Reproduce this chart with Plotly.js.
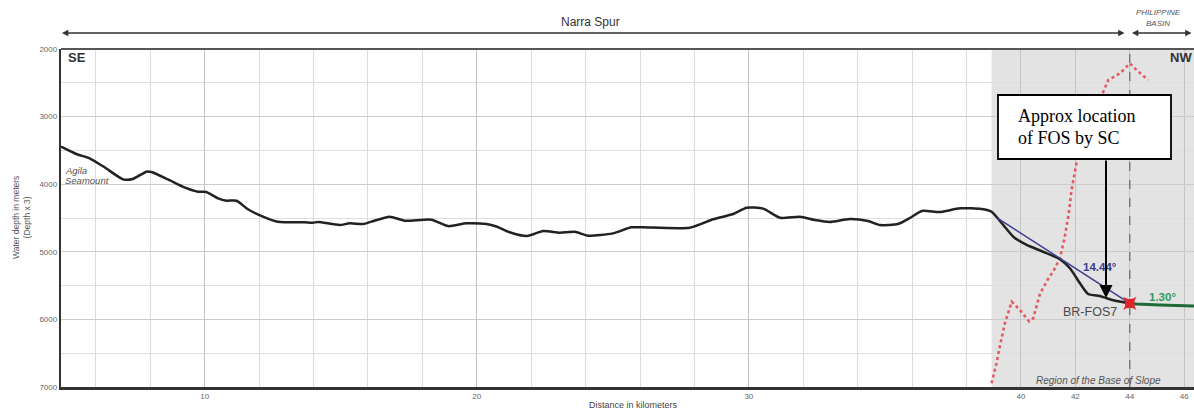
<!DOCTYPE html>
<html><head><meta charset="utf-8">
<script src="https://cdn.plot.ly/plotly-3.0.1.min.js"></script>
<style>html,body{margin:0;padding:0;background:#fff;}#chart{width:1194px;height:411px;}</style>
</head><body><div id="chart"></div>
<script>
// ---- data ----
const profileKm = [4.72, 5.28, 5.77, 6.32, 7.0, 7.36, 7.86, 8.04, 8.65, 9.26, 9.76, 10.06, 10.49, 10.8, 11.17, 11.59, 12.21, 12.69, 13.68, 13.98, 14.17, 14.96, 15.33, 15.82, 16.13, 16.8, 17.35, 18.33, 18.95, 19.62, 20.36, 20.72, 21.21, 21.85, 22.44, 23.05, 23.6, 24.09, 25.0, 25.68, 26.11, 27.83, 28.69, 29.42, 29.92, 30.53, 31.14, 31.88, 32.43, 32.98, 33.71, 34.38, 34.82, 35.48, 35.92, 36.36, 37.02, 37.76, 38.55, 38.92, 39.35, 39.72, 40.21, 40.82, 41.43, 41.80, 42.17, 42.47, 42.9, 43.15, 43.51, 44.0];
const profileDepth = [3445, 3553, 3617, 3750, 3928, 3923, 3815, 3820, 3928, 4046, 4111, 4115, 4209, 4244, 4244, 4371, 4490, 4555, 4564, 4569, 4559, 4604, 4579, 4589, 4554, 4480, 4539, 4525, 4620, 4579, 4590, 4625, 4710, 4766, 4692, 4717, 4704, 4761, 4727, 4638, 4638, 4643, 4519, 4441, 4347, 4362, 4496, 4480, 4530, 4559, 4515, 4545, 4604, 4590, 4500, 4396, 4411, 4357, 4367, 4407, 4604, 4777, 4899, 4999, 5109, 5244, 5466, 5624, 5654, 5688, 5728, 5762];
const basinKm = [44.0, 44.25, 45.1, 46.36];
const basinDepth = [5762, 5772, 5787, 5802];
const slopeKm = [39.15, 44.0];
const slopeDepth = [4505, 5762];
const fosKm = [44.0];
const fosDepth = [5762];
const redKm = [38.92, 39.10, 39.25, 39.41, 39.66, 39.96, 40.3, 40.45, 40.7, 41.0, 41.2, 41.43, 41.6, 41.75, 41.86, 41.98, 42.06, 42.3, 42.6, 42.94, 43.03, 43.21, 43.64, 44.0, 44.25, 44.67];
const redDepth = [6945, 6650, 6350, 6058, 5738, 5861, 6030, 5984, 5620, 5400, 5280, 5100, 4800, 4450, 4086, 3790, 3640, 3250, 2900, 2680, 2631, 2459, 2361, 2213, 2311, 2459];
const xTickVals = [10, 20, 30, 40, 42, 44, 46];
const xTickText = ['10', '20', '30', '40', '42', '44', '46'];
const yTickVals = [2000, 3000, 4000, 5000, 6000, 7000];
const yTickText = ['2000', '3000', '4000', '5000', '6000', '7000'];

// ---- layout helpers (reference pixel -> paper) ----
const W = 1194, H = 411, L = 61, T = 49, B = 24, R = 0;
const xp = px => (px - L) / (W - L - R);
const yp = py => (H - B - py) / (H - B - T);
const SANS = 'Liberation Sans, Arial, sans-serif';
const SERIF = 'Liberation Serif, Times New Roman, serif';

const traces = [
  {x: redKm, y: redDepth, mode: 'lines', line: {color: '#e25a5f', width: 2.6, dash: 'dot'}, hoverinfo: 'skip'},
  {x: profileKm, y: profileDepth, mode: 'lines', line: {color: '#222222', width: 2.5, shape: 'spline', smoothing: 0.6}, hoverinfo: 'skip'},
  {x: slopeKm, y: slopeDepth, mode: 'lines', line: {color: '#3d3d8f', width: 1.5}, hoverinfo: 'skip'},
  {x: basinKm, y: basinDepth, mode: 'lines', line: {color: '#1f6b38', width: 3}, hoverinfo: 'skip'},
  {x: fosKm, y: fosDepth, mode: 'markers', marker: {symbol: 'star-square', size: 12, color: '#e3242b'}, hoverinfo: 'skip'}
];

function txt(text, x, y, size, opts) {
  return Object.assign({xref: 'paper', yref: 'paper', x: xp(x), y: yp(y), text: text, showarrow: false,
    xanchor: 'left', yanchor: 'middle', font: {family: SANS, size: size, color: '#444'}}, opts || {});
}

const annotations = [
  txt('Narra Spur', 590, 22, 12, {xanchor: 'center', font: {family: SANS, size: 12, color: '#333'}}),
  txt('<i>PHILIPPINE</i>', 1158, 13, 8, {xanchor: 'center', font: {family: SANS, size: 8, color: '#555'}}),
  txt('<i>BASIN</i>', 1158, 24, 8, {xanchor: 'center', font: {family: SANS, size: 8, color: '#555'}}),
  txt('<b>SE</b>', 66, 57, 13, {font: {family: SANS, size: 13, color: '#333'}}),
  txt('<b>NW</b>', 1194, 57, 13, {xanchor: 'right', font: {family: SANS, size: 13, color: '#333'}}),
  txt('<i>Agila</i>', 63, 170, 9.5, {font: {family: SANS, size: 9.5, color: '#555'}}),
  txt('<i>Seamount</i>', 63, 180, 9.5, {font: {family: SANS, size: 9.5, color: '#555'}}),
  txt('<i>Region of the Base of Slope</i>', 1098, 380, 10, {xanchor: 'center', font: {family: SANS, size: 10, color: '#555'}}),
  txt('BR-FOS7', 1061, 312, 12.5, {font: {family: SANS, size: 12.5, color: '#4a4a4a'}}),
  txt('<b>14.44°</b>', 1081, 267, 11.5, {font: {family: SANS, size: 11.5, color: '#3c3c8e'}}),
  txt('<b>1.30°</b>', 1147, 297, 11.5, {font: {family: SANS, size: 11.5, color: '#2e9b5c'}}),
  txt('Approx location', 1016, 116, 18, {font: {family: SERIF, size: 18, color: '#000'}}),
  txt('of FOS by SC', 1016, 138, 18, {font: {family: SERIF, size: 18, color: '#000'}}),
  txt('Water depth in meters<br>(Depth x 3)', 21, 218, 8.5, {xanchor: 'center', textangle: -90, font: {family: SANS, size: 8.5, color: '#555'}}),
  txt('Distance in kilometers', 633, 405, 9, {xanchor: 'center', font: {family: SANS, size: 9, color: '#444'}}),
  // FOS arrow
  {xref: 'paper', yref: 'paper', x: xp(1106), y: yp(298), axref: 'pixel', ayref: 'pixel', ax: 0, ay: -(298 - 159),
    text: '', showarrow: true, arrowhead: 2, arrowsize: 1.3, arrowwidth: 2, arrowcolor: '#000', standoff: 0, startstandoff: 0},
  // top region arrows
  {xref: 'paper', yref: 'paper', x: xp(62), y: yp(33), axref: 'pixel', ayref: 'pixel', ax: 1126 - 62, ay: 0,
    text: '', showarrow: true, arrowside: 'end+start', arrowhead: 2, arrowsize: 0.9, arrowwidth: 1.4, arrowcolor: '#333', standoff: 0, startstandoff: 0},
  {xref: 'paper', yref: 'paper', x: xp(1132), y: yp(33), axref: 'pixel', ayref: 'pixel', ax: 1193 - 1132, ay: 0,
    text: '', showarrow: true, arrowside: 'end+start', arrowhead: 2, arrowsize: 0.9, arrowwidth: 1.4, arrowcolor: '#333', standoff: 0, startstandoff: 0}
];

const shapes = [
  {type: 'rect', xref: 'x', yref: 'paper', x0: 38.92, x1: 47, y0: 0, y1: 1, fillcolor: '#e3e3e3', line: {width: 0}, layer: 'below'},
  {type: 'line', xref: 'x', yref: 'paper', x0: 44, x1: 44, y0: 0, y1: 1, line: {color: '#666', width: 1.2, dash: 'dash'}, layer: 'above'},
  {type: 'line', xref: 'paper', yref: 'paper', x0: 0, x1: 1, y0: 1, y1: 1, line: {color: '#555', width: 2}, layer: 'above'},
  {type: 'rect', xref: 'paper', yref: 'paper', x0: xp(998), x1: xp(1171), y0: yp(159), y1: yp(95), fillcolor: '#fff', line: {color: '#000', width: 1.8}, layer: 'above'}
];

const layout = {
  width: W, height: H,
  margin: {l: L, r: R, t: T, b: B, pad: 0},
  paper_bgcolor: '#fff', plot_bgcolor: '#fff',
  showlegend: false,
  xaxis: {range: [4.72, 46.36], tickmode: 'array', tickvals: xTickVals, ticktext: xTickText,
    showgrid: true, gridcolor: '#c4c4c4', gridwidth: 1,
    minor: {dtick: 2, tick0: 0, showgrid: true, gridcolor: '#dcdcdc', gridwidth: 1},
    zeroline: false, showline: true, linecolor: '#333', linewidth: 2.5, ticks: '', ticklen: 0,
    tickfont: {family: SANS, size: 8, color: '#666'}, automargin: false},
  yaxis: {range: [7000, 2000], tickmode: 'array', tickvals: yTickVals, ticktext: yTickText,
    showgrid: true, gridcolor: '#cccccc', gridwidth: 1,
    minor: {dtick: 500, tick0: 0, showgrid: true, gridcolor: '#dedede', gridwidth: 1},
    zeroline: false, showline: true, linecolor: '#333', linewidth: 2.2, ticks: '', ticklen: 0,
    tickfont: {family: SANS, size: 8, color: '#666'}, automargin: false},
  shapes: shapes,
  annotations: annotations
};

Plotly.newPlot('chart', traces, layout, {displayModeBar: false, staticPlot: true});
</script>
</body></html>
